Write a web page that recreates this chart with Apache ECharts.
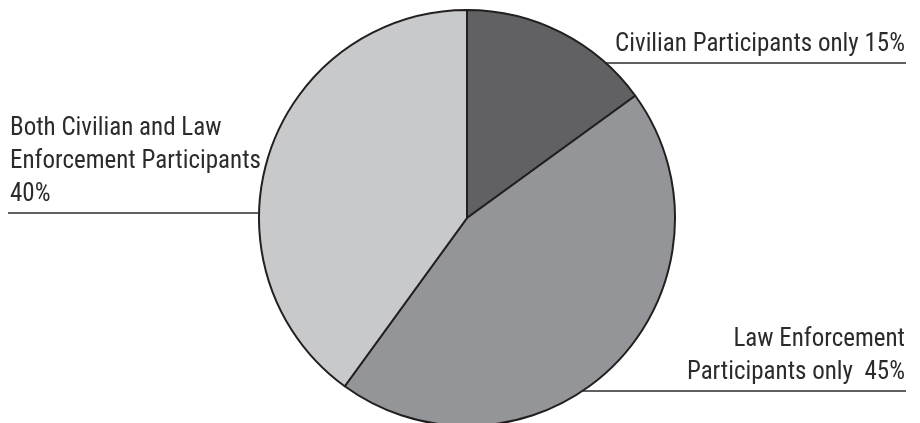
<!DOCTYPE html>
<html>
<head>
<meta charset="utf-8">
<script src="https://cdn.jsdelivr.net/npm/echarts@6/dist/echarts.min.js"></script>
<style>
html,body{margin:0;padding:0;background:#fff;}
#chart{width:920px;height:423px;}
</style>
</head>
<body>
<div id="chart"></div>
<script>
// Data
var categories = ["Civilian Participants only", "Law Enforcement Participants only", "Both Civilian and Law Enforcement Participants"];
var values = [15, 45, 40];
var labelTexts = [
  "Civilian Participants only 15%",
  "Law Enforcement\nParticipants only  45%",
  "Both Civilian and Law\nEnforcement Participants\n40%"
];
var colors = ["#616163", "#939598", "#c8c9cb"];

// Label placement (styling, not data)
var labelPlace = [
  {x: 905, lineY: 63, lineX0: 604, lineX1: 906, align: "right"},
  {x: 905, lineY: 391, lineX0: 583, lineX1: 906, align: "right"},
  {x: 10, lineY: 213, lineX0: 8, lineX1: 260, align: "left"}
];

var chart = echarts.init(document.getElementById("chart"), null, {renderer: "canvas"});
var fontFam = "'Liberation Sans Narrow', 'Roboto Condensed', 'Arial Narrow', 'Liberation Sans', sans-serif";
chart.setOption({
  animation: false,
  backgroundColor: "#ffffff",
  series: [{
    type: "pie",
    center: [467, 218],
    radius: 208,
    startAngle: 90,
    clockwise: true,
    avoidLabelOverlap: false,
    itemStyle: {borderColor: "#231f20", borderWidth: 2},
    label: {
      show: true,
      position: "outside",
      fontFamily: fontFam,
      fontSize: 25,
      lineHeight: 33,
      color: "#2b2b2b",
      formatter: function (p) { return labelTexts[p.dataIndex]; }
    },
    labelLine: {show: true, lineStyle: {color: "#2b2b2b", width: 1.5}},
    labelLayout: function (p) {
      var lp = labelPlace[p.dataIndex];
      return {
        x: lp.x,
        y: lp.lineY - 2,
        align: lp.align,
        verticalAlign: "bottom",
        labelLinePoints: [[lp.lineX0, lp.lineY], [(lp.lineX0 + lp.lineX1) / 2, lp.lineY], [lp.lineX1, lp.lineY]]
      };
    },
    emphasis: {disabled: true},
    data: categories.map(function (c, i) {
      return {name: c, value: values[i], itemStyle: {color: colors[i]}};
    })
  }]
});
</script>
</body>
</html>
